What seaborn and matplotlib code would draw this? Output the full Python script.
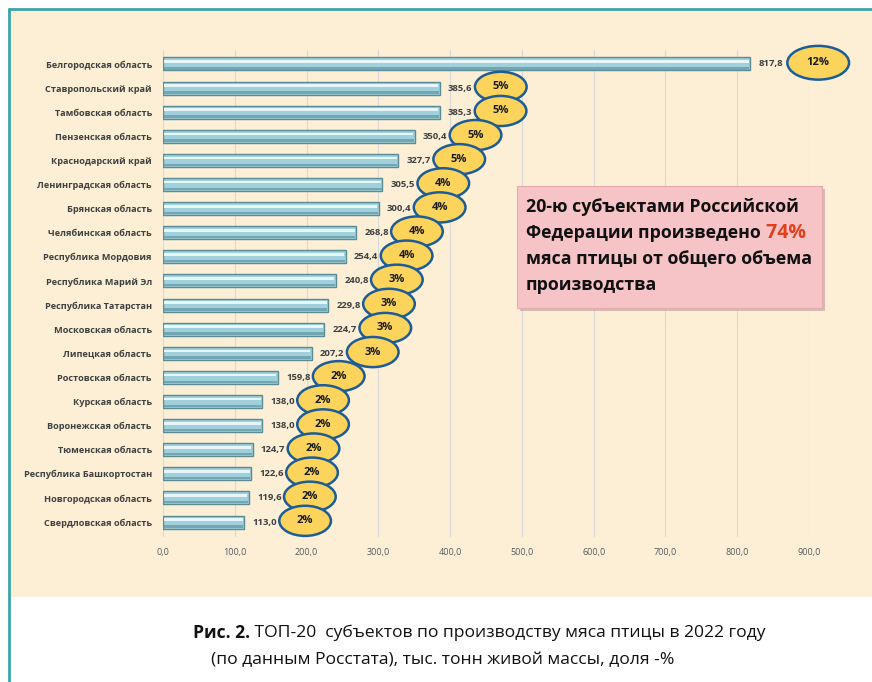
import numpy as np
import pandas as pd
import matplotlib
matplotlib.use('Agg')
import matplotlib.pyplot as plt
import seaborn as sns
from matplotlib.patches import Ellipse, Rectangle
from matplotlib.lines import Line2D

# Data (thousand tonnes live weight, share of total, %)
regions = [
    "Белгородская область", "Ставропольский край", "Тамбовская область",
    "Пензенская область", "Краснодарский край", "Ленинградская область",
    "Брянская область", "Челябинская область", "Республика Мордовия",
    "Республика Марий Эл", "Республика Татарстан", "Московская область",
    "Липецкая область", "Ростовская область", "Курская область",
    "Воронежская область", "Тюменская область", "Республика Башкортостан",
    "Новгородская область", "Свердловская область",
]
values = [817.8, 385.6, 385.3, 350.4, 327.7, 305.5, 300.4, 268.8, 254.4, 240.8,
          229.8, 224.7, 207.2, 159.8, 138.0, 138.0, 124.7, 122.6, 119.6, 113.0]
shares = [12, 5, 5, 5, 5, 4, 4, 4, 4, 3, 3, 3, 3, 2, 2, 2, 2, 2, 2, 2]
x_ticks = [0, 100, 200, 300, 400, 500, 600, 700, 800, 900]

df = pd.DataFrame({"region": regions, "value": values, "share": shares})

sns.set_theme(style="white")
plt.rcParams['font.family'] = ['Open Sans', 'DejaVu Sans']

W, H = 872, 682
fig = plt.figure(figsize=(W / 100, H / 100), dpi=100)
fig.patch.set_facecolor('white')

def fx(px):
    return px / W

def fy(py):
    return 1 - py / H

# background layer: beige panel with teal border
bg = fig.add_axes([0, 0, 1, 1], zorder=-1)
bg.set_axis_off()
bg.set_xlim(0, 1)
bg.set_ylim(0, 1)
bg.add_patch(Rectangle((fx(10), fy(597)), fx(W - 10), fy(10) - fy(597),
                       facecolor='#fcefd6', edgecolor='none'))
bg.add_line(Line2D([fx(9), fx(9)], [0, fy(9)], color='#3aa5a8', lw=2))
bg.add_line(Line2D([fx(9), 1], [fy(9), fy(9)], color='#3aa5a8', lw=2))

ax = fig.add_axes([fx(163), fy(536.5), fx(809) - fx(163), fy(49.5) - fy(536.5)], zorder=1)
ax.set_facecolor('none')

sns.barplot(data=df, x="value", y="region", orient='h', color='#9fd0db',
            edgecolor='#5a8c97', linewidth=1.0, width=0.54, saturation=1, ax=ax)
pos = np.arange(len(df))
# glossy highlight and shade on the bars
ax.barh(pos - 0.1, df["value"] - 4, height=0.11, left=2, color='#e6f6f9', lw=0, zorder=3)
ax.barh(pos + 0.18, df["value"] - 2, height=0.1, left=1, color='#74a6b2', lw=0, zorder=3)

ax.set_xlim(0, 900)
ax.set_ylim(19.6, -0.6)
ax.set_xticks(x_ticks)
ax.set_xticklabels([f"{v:.1f}".replace('.', ',') for v in x_ticks],
                   fontsize=6.5, color='#595959')
ax.tick_params(axis='x', length=0, pad=8)
ax.tick_params(axis='y', length=0, pad=8)
for lab in ax.get_yticklabels():
    lab.set_fontsize(6.6)
    lab.set_fontweight('bold')
    lab.set_color('#404040')
ax.set_xlabel("")
ax.set_ylabel("")
ax.grid(axis='x', color='#d9d9d9', lw=0.8)
ax.set_axisbelow(True)
for s in ax.spines.values():
    s.set_visible(False)

for i, (v, sh) in enumerate(zip(values, shares)):
    ax.annotate(f"{v:.1f}".replace('.', ','), (v, i), xytext=(6, 0),
                textcoords='offset points', va='center', ha='left',
                fontsize=6.8, fontweight='bold', color='#404040', zorder=5)
    if i == 0:
        cx, w, h = v + 95, 86, 1.4
    else:
        cx, w, h = v + 85, 72, 1.25
    e = Ellipse((cx, i - 0.05), w, h, facecolor='#fdd45b', edgecolor='#1d5c95',
                lw=1.8, zorder=6, clip_on=False)
    ax.add_patch(e)
    ax.text(cx, i - 0.05, f"{sh}%", ha='center', va='center', fontsize=8,
            fontweight='bold', color='#1a1a1a', zorder=7, clip_on=False)

# overlay layer: pink annotation box and caption
top = fig.add_axes([0, 0, 1, 1], zorder=5)
top.set_axis_off()
top.set_facecolor('none')
top.set_xlim(0, 1)
top.set_ylim(0, 1)
top.add_patch(Rectangle((fx(520), fy(311)), fx(822) - fx(517), fy(186) - fy(308),
                        facecolor='#b89a9b', edgecolor='none', alpha=0.6))
top.add_patch(Rectangle((fx(517), fy(308)), fx(822) - fx(517), fy(186) - fy(308),
                        facecolor='#f6c3c6', edgecolor='#e6a9ad', lw=0.8))
box_lines = ["20-ю субъектами Российской", "Федерации произведено",
             "мяса птицы от общего объема", "производства"]
line_y = [207, 233, 259, 285]
texts = []
for t, yy in zip(box_lines, line_y):
    texts.append(top.text(fx(526), fy(yy), t, ha='left', va='center', fontsize=12.8,
                          fontweight='bold', color='#111111'))
fig.canvas.draw()
top.annotate(" 74%", xy=(1, 0.5), xycoords=texts[1], ha='left', va='center',
             fontsize=14, fontweight='bold', color='#e0401c', annotation_clip=False)

cap1 = top.text(fx(193), fy(633), "Рис. 2.", ha='left', va='center', fontsize=12.6,
                fontweight='bold', color='#111111')
fig.canvas.draw()
top.annotate(" ТОП-20  субъектов по производству мяса птицы в 2022 году",
             xy=(1, 0.5), xycoords=cap1, ha='left', va='center', fontsize=12.6,
             color='#111111', annotation_clip=False)
top.text(fx(443), fy(660), "(по данным Росстата), тыс. тонн живой массы, доля -%",
         ha='center', va='center', fontsize=12.6, color='#111111')

fig.savefig('out.png', dpi=100)
